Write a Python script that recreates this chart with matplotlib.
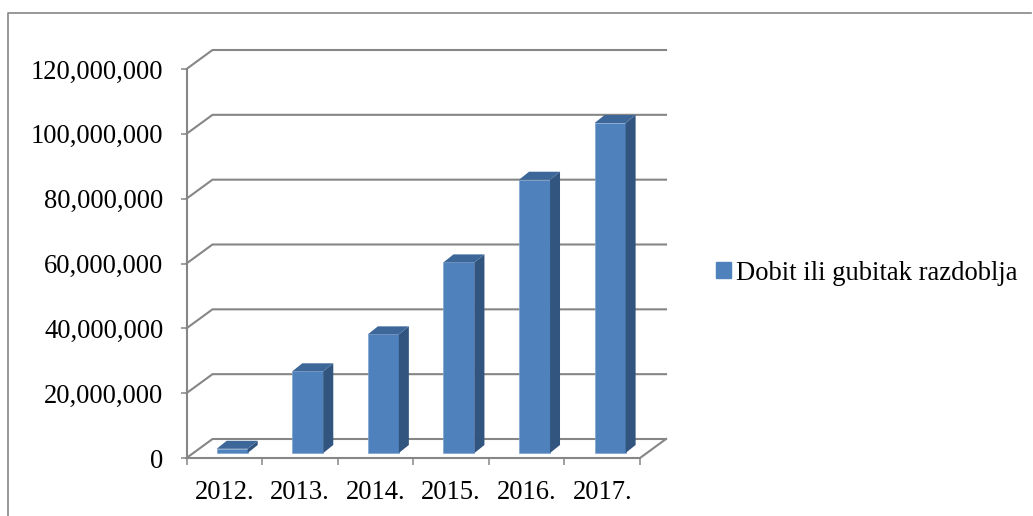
import matplotlib
matplotlib.use('Agg')
import matplotlib.pyplot as plt
from matplotlib.patches import Patch

# vrijednosti procijenjene sa slike
godine = ['2012.', '2013.', '2014.', '2015.', '2016.', '2017.']
dobit = [1300000, 25200000, 36600000, 58800000, 84300000, 101800000]
y_ticks = [0, 20000000, 40000000, 60000000, 80000000, 100000000, 120000000]
naziv = 'Dobit ili gubitak razdoblja'

W, H = 1033, 516
SIVA = '#868686'
PLAVA = '#4F81BD'
BOK = '#32557F'
VRH = '#3C6798'

plt.rcParams['font.family'] = ['Liberation Serif', 'DejaVu Serif']

fig = plt.figure(figsize=(W / 100, H / 100), dpi=100)

# prednja ravnina osi u pikselima
x0, x1, y0, y1 = 186.5, 640.0, 458.0, 69.0
ax = fig.add_axes([x0 / W, 1 - y0 / H, (x1 - x0) / W, (y0 - y1) / H])
ax.set_xlim(0, len(godine))
ax.set_ylim(0, 120000000)
ax.patch.set_visible(False)
for s in ax.spines.values():
    s.set_visible(False)

# pikseli u jedinice podataka
px = len(godine) / (x1 - x0)
py = 120000000 / (y0 - y1)
dx, dy = 26 * px, 19 * py   # dubina grafa

# okvir slike
fig.add_artist(plt.Line2D([8 / W, 8 / W, 1031 / W], [0, 1 - 13 / H, 1 - 13 / H],
                          color=SIVA, lw=1.2))

# mreza i zidovi
for v in y_ticks:
    ax.plot([0, dx, len(godine) + dx], [v, v + dy, v + dy],
            color=SIVA, lw=1.5, clip_on=False, solid_joinstyle='miter', zorder=1)
ax.plot([0, len(godine), len(godine) + dx], [0, 0, dy],
        color=SIVA, lw=1.5, clip_on=False, zorder=1)
ax.plot([0, 0], [0, 120000000], color=SIVA, lw=1.5, clip_on=False, zorder=1)

# stupci: prednja strana, bok i vrh
sirina = 31 * px
pomak_x, pomak_y = 7.9 * px, 5 * py
dub_x, dub_y = 10 * px, 8 * py
for i, v in enumerate(dobit):
    lijevo = i + 0.5 - sirina / 2 + pomak_x
    desno = lijevo + sirina
    dno, vrh = pomak_y, pomak_y + v
    ax.bar(lijevo, v, width=sirina, bottom=dno, align='edge', color=PLAVA,
           edgecolor='#7FA3CF', linewidth=0.5, zorder=3, clip_on=False)
    ax.fill([desno, desno + dub_x, desno + dub_x, desno],
            [dno, dno + dub_y, vrh + dub_y, vrh], color=BOK, lw=0, zorder=3, clip_on=False)
    ax.fill([lijevo, desno, desno + dub_x, lijevo + dub_x],
            [vrh, vrh, vrh + dub_y, vrh + dub_y], color=VRH, lw=0, zorder=3, clip_on=False)

# osi
ax.set_yticks(y_ticks)
ax.set_yticklabels([f'{v:,}' for v in y_ticks])
ax.set_xticks(range(len(godine) + 1))
ax.set_xticklabels([])
ax.set_xticks([i + 0.5 for i in range(len(godine))], godine, minor=True)
ax.tick_params(axis='y', labelsize=19.2, length=4.5, width=1.1, color=SIVA, pad=12)
ax.tick_params(axis='x', which='major', length=5, width=1.1, color=SIVA)
ax.tick_params(axis='x', which='minor', length=0, labelsize=19.2, pad=16)

ax.legend(handles=[Patch(color=PLAVA, label=naziv)], loc='center left',
          bbox_to_anchor=(716 / W, 1 - 273 / H), bbox_transform=fig.transFigure,
          frameon=False, fontsize=19.2, handlelength=0.55, handleheight=0.55,
          handletextpad=0.2, borderpad=0, borderaxespad=0)

fig.savefig('out.png', dpi=100)
